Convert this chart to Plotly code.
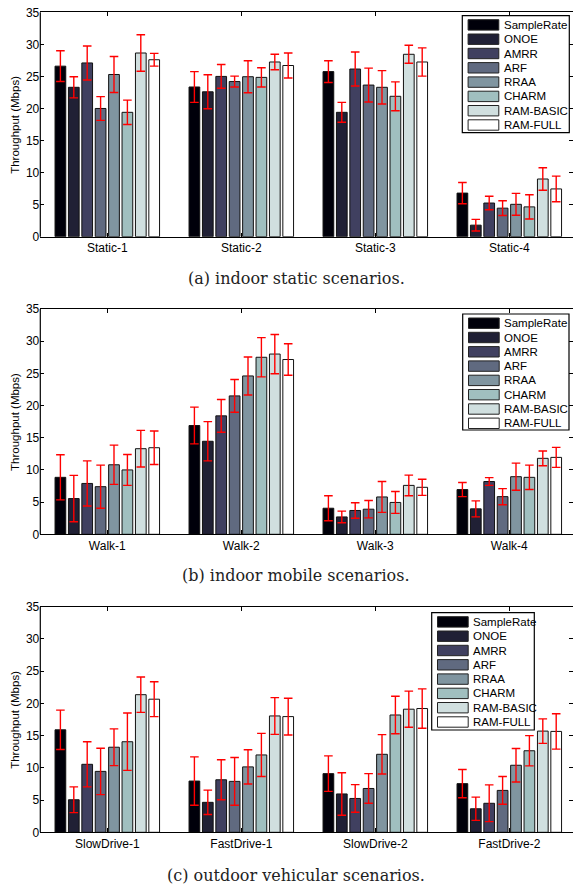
import plotly.graph_objects as go

W, H = 573, 887

series = ["SampleRate", "ONOE", "AMRR", "ARF", "RRAA", "CHARM", "RAM-BASIC", "RAM-FULL"]
colors = ["#00000a", "#202035", "#404060", "#606a80", "#8095a0", "#a0bfbf", "#d0dfdf", "#ffffff"]

static_cats = ["Static-1", "Static-2", "Static-3", "Static-4"]
walk_cats = ["Walk-1", "Walk-2", "Walk-3", "Walk-4"]
drive_cats = ["SlowDrive-1", "FastDrive-1", "SlowDrive-2", "FastDrive-2"]

# rows = scenarios, columns = series (same order as `series`)
static_mean = [
    [26.6, 23.3, 27.1, 20.0, 25.3, 19.4, 28.65, 27.6],
    [23.35, 22.6, 25.0, 24.2, 24.95, 24.85, 27.25, 26.7],
    [25.75, 19.4, 26.15, 23.65, 23.3, 21.9, 28.45, 27.25],
    [6.8, 1.8, 5.25, 4.45, 5.05, 4.65, 9.0, 7.45],
]
static_err = [
    [2.4, 1.65, 2.65, 1.85, 2.8, 1.9, 2.85, 1.0],
    [2.4, 2.65, 1.85, 0.85, 2.5, 1.5, 1.2, 1.95],
    [1.7, 1.55, 2.65, 2.65, 2.6, 2.25, 1.4, 2.2],
    [1.65, 0.9, 1.05, 1.15, 1.7, 1.9, 1.75, 2.0],
]
walk_mean = [
    [8.85, 5.55, 7.9, 7.4, 10.8, 10.0, 13.3, 13.45],
    [16.9, 14.45, 18.4, 21.5, 24.6, 27.5, 28.0, 27.15],
    [4.05, 2.7, 3.7, 3.9, 5.8, 4.95, 7.6, 7.3],
    [6.95, 3.95, 8.2, 5.85, 8.95, 8.85, 11.8, 11.95],
]
walk_err = [
    [3.5, 3.6, 3.5, 3.35, 3.05, 2.4, 2.85, 2.6],
    [2.85, 3.05, 2.55, 2.55, 2.95, 3.05, 3.05, 2.45],
    [1.95, 0.9, 1.2, 1.35, 2.4, 1.7, 1.6, 1.25],
    [1.1, 1.25, 0.6, 1.25, 2.1, 1.9, 1.15, 1.55],
]
drive_mean = [
    [15.9, 5.05, 10.55, 9.45, 13.2, 14.05, 21.35, 20.65],
    [7.95, 4.65, 8.15, 7.9, 10.15, 12.0, 18.05, 17.95],
    [9.1, 5.95, 5.25, 6.8, 12.1, 18.2, 19.1, 19.2],
    [7.55, 3.65, 4.5, 6.5, 10.4, 12.65, 15.7, 15.65],
]
drive_err = [
    [3.05, 2.0, 3.5, 3.6, 2.85, 4.45, 2.75, 2.7],
    [3.75, 1.9, 3.1, 3.7, 2.65, 3.35, 2.85, 2.85],
    [2.75, 3.3, 2.15, 2.3, 3.05, 2.9, 2.8, 3.05],
    [2.2, 1.8, 2.85, 2.15, 2.6, 2.35, 1.9, 2.75],
]

captions = ["(a) indoor static scenarios.", "(b) indoor mobile scenarios.",
            "(c) outdoor vehicular scenarios."]
y_title = "Throughput (Mbps)"
y_ticks = [0, 5, 10, 15, 20, 25, 30, 35]

panels = [
    dict(cats=static_cats, mean=static_mean, err=static_err, top=12.3, bottom=236.7,
         cap_y=278.5, leg=(462.3, 15.7, 107.0, 117.0)),
    dict(cats=walk_cats, mean=walk_mean, err=walk_err, top=309.0, bottom=534.3,
         cap_y=575.5, leg=(462.7, 314.0, 106.3, 116.0)),
    dict(cats=drive_cats, mean=drive_mean, err=drive_err, top=606.7, bottom=832.3,
         cap_y=875.5, leg=(431.7, 612.7, 102.6, 117.3)),
]

AX_LEFT = 40.3
PITCH = 134.0
FONT = "Liberation Sans, Arial, Helvetica, sans-serif"


def px(x):
    return x / W


def py(y):
    return 1 - y / H


fig = go.Figure()
shapes = []
annotations = []

for p, pan in enumerate(panels):
    sfx = "" if p == 0 else str(p + 1)
    xa, ya = "x" + sfx, "y" + sfx
    for j, name in enumerate(series):
        fig.add_trace(go.Bar(
            x=list(range(len(pan["cats"]))),
            y=[row[j] for row in pan["mean"]],
            name=name,
            xaxis=xa, yaxis=ya,
            showlegend=False,
            marker=dict(color=colors[j], line=dict(color="#111111", width=1)),
            error_y=dict(type="data", array=[row[j] for row in pan["err"]],
                         color="rgb(255,0,0)", thickness=1.4, width=4.3),
        ))
    right_val = -0.5 + (W - AX_LEFT) / PITCH
    fig.update_layout(**{
        "xaxis" + sfx: dict(
            domain=[px(AX_LEFT), 1.0], range=[-0.5, right_val], anchor=ya,
            tickvals=list(range(len(pan["cats"]))), ticktext=pan["cats"],
            ticks="inside", ticklen=4, tickcolor="black", tickwidth=1,
            showline=True, linecolor="black", linewidth=1.2, mirror="ticks",
            showgrid=False, zeroline=False, automargin=False,
            tickfont=dict(family=FONT, size=12, color="black"),
        ),
        "yaxis" + sfx: dict(
            domain=[py(pan["bottom"]), py(pan["top"])], range=[0, 35], anchor=xa,
            tickvals=y_ticks, ticks="inside", ticklen=4, tickcolor="black", tickwidth=1,
            showline=False, mirror="ticks",
            showgrid=False, zeroline=False, automargin=False,
            tickfont=dict(family=FONT, size=12, color="black"),
        ),
    })
    # left axis line
    shapes.append(dict(type="line", xref="paper", yref="paper",
                       x0=px(AX_LEFT), x1=px(AX_LEFT), y0=py(pan["bottom"]), y1=py(pan["top"]),
                       line=dict(color="black", width=1.2)))
    # y title
    annotations.append(dict(xref="paper", yref="paper", x=px(14.3),
                            y=py((pan["top"] + pan["bottom"]) / 2), text=y_title,
                            textangle=-90, showarrow=False,
                            font=dict(family=FONT, size=11.5, color="black"),
                            xanchor="center", yanchor="middle"))
    # caption
    annotations.append(dict(xref="paper", yref="paper", x=px(296), y=py(pan["cap_y"]),
                            text=captions[p], showarrow=False,
                            font=dict(family="DejaVu Serif, serif", size=16, color="#222222"),
                            xanchor="center", yanchor="middle"))
    # legend box
    lx, ly, lw, lh = pan["leg"]
    shapes.append(dict(type="rect", xref="paper", yref="paper", layer="above",
                       x0=px(lx), x1=px(lx + lw), y0=py(ly + lh), y1=py(ly),
                       fillcolor="white", line=dict(color="black", width=1.2)))
    for j, name in enumerate(series):
        cy = ly + 9.2 + j * 14.3
        shapes.append(dict(type="rect", xref="paper", yref="paper", layer="above",
                           x0=px(lx + 5.8), x1=px(lx + 36.5), y0=py(cy + 5.2), y1=py(cy - 5.2),
                           fillcolor=colors[j], line=dict(color="#222222", width=1)))
        annotations.append(dict(xref="paper", yref="paper", x=px(lx + 39.2), y=py(cy),
                                text=name, showarrow=False, xanchor="left", yanchor="middle",
                                font=dict(family=FONT, size=11.5, color="black")))

fig.update_layout(
    width=W, height=H,
    margin=dict(l=0, r=0, t=0, b=0),
    paper_bgcolor="white", plot_bgcolor="white",
    barmode="group", bargap=0.2, bargroupgap=0.2,
    shapes=shapes, annotations=annotations,
    showlegend=False,
)

fig.write_html("out.html", config={"displayModeBar": False},
               post_script="document.body.style.margin='0px';document.body.style.padding='0px';"
                           "document.documentElement.style.overflow='hidden';")
